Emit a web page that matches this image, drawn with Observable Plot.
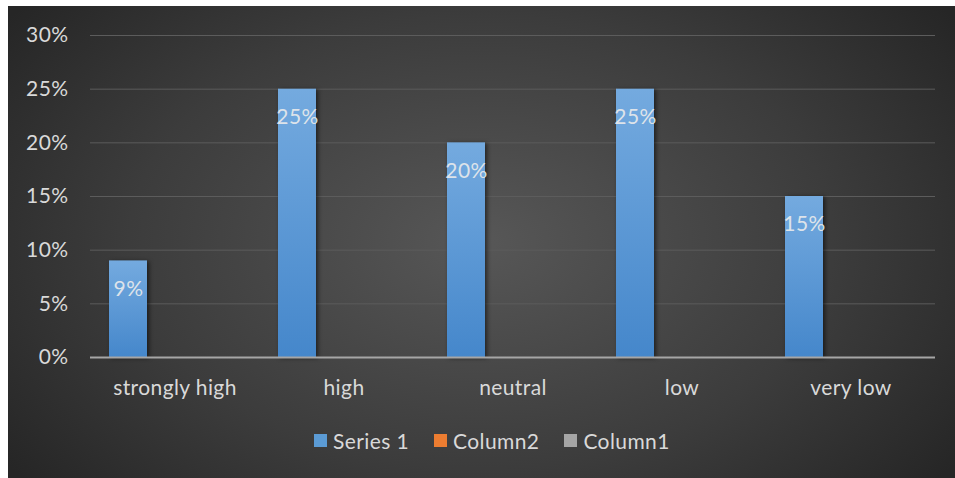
<!DOCTYPE html>
<html>
<head>
<meta charset="utf-8">
<script src="https://cdn.jsdelivr.net/npm/d3@7"></script>
<script src="https://cdn.jsdelivr.net/npm/@observablehq/plot@0.6"></script>
<style>
  html, body { margin: 0; padding: 0; background: #fff; }
  body { width: 955px; height: 478px; overflow: hidden; position: relative; font-family: Lato, "Open Sans", sans-serif; }
  #panel {
    position: absolute; left: 8px; top: 6px; width: 947px; height: 472px;
    background: radial-gradient(ellipse 62% 80% at 50% 50%, #575757 0%, #3c3c3c 60%, #262626 100%);
    overflow: hidden;
  }
  #chart svg { display: block; background: transparent; }
  #chart svg text { letter-spacing: 0.4px; }
  #chart g[aria-label="bar"] rect { filter: drop-shadow(2px 1px 2px rgba(0,0,0,0.55)); }
  #legend { position: absolute; left: 306px; top: 422px; display: flex; align-items: center;
    font-size: 21px; letter-spacing: 0.4px; color: #d9d9d9; white-space: nowrap; }
  #legend .item { display: flex; align-items: center; margin-right: 25px; }
  #legend .sw { width: 13px; height: 13px; margin-right: 6px; }
</style>
</head>
<body>
<div id="panel">
  <div id="chart"></div>
  <div id="legend"></div>
</div>
<script>
const categories = ["strongly high", "high", "neutral", "low", "very low"];
const series = ["Series 1", "Column2", "Column1"];
const series1 = [0.09, 0.25, 0.20, 0.25, 0.15];
const column2 = [0, 0, 0, 0, 0];
const column1 = [0, 0, 0, 0, 0];
const yTicks = [0, 0.05, 0.10, 0.15, 0.20, 0.25, 0.30];
const seriesColors = ["#5b9bd5", "#ed7d31", "#a5a5a5"];

const valuesBySeries = [series1, column2, column1];
const data = [];
categories.forEach((c, i) => {
  series.forEach((s, j) => data.push({category: c, series: s, value: valuesBySeries[j][i]}));
});

const pct = d => Math.round(d * 100) + "%";

const plot = Plot.plot({
  width: 947,
  height: 410,
  marginTop: 29,
  marginBottom: 59,
  marginLeft: 82,
  marginRight: 20,
  style: {background: "transparent", fontFamily: "Lato, 'Open Sans', sans-serif", fontSize: "21px", color: "#d9d9d9"},
  fx: {domain: categories, padding: 0, label: null, axis: "bottom", tickSize: 0, tickPadding: 23},
  x: {domain: series, axis: null, paddingInner: 0.17, paddingOuter: 0.383},
  y: {domain: [0, 0.3], ticks: yTicks, tickFormat: pct, tickSize: 0, tickPadding: 22, label: null},
  color: {domain: series, range: ["url(#g0)", "url(#g1)", "url(#g2)"]},
  marks: [
    Plot.ruleY(yTicks.filter(d => d > 0), {stroke: "#5c5c5c", strokeWidth: 1}),
    Plot.barY(data, {fx: "category", x: "series", y: "value", fill: "series"}),
    Plot.ruleY([0], {stroke: "#a6a6a6", strokeWidth: 2}),
    Plot.text(data.filter(d => d.value > 0), {fx: "category", x: "series", y: "value", text: d => pct(d.value),
      dy: 28, fill: "#dde3ea", fontSize: 21})
  ]
});

// gradients for bars
const defs = d3.select(plot).insert("defs", ":first-child");
const grads = [["#74aadf", "#4587cb"], ["#f59a5e", "#e06a1e"], ["#bdbdbd", "#939393"]];
grads.forEach((g, i) => {
  const lg = defs.append("linearGradient").attr("id", "g" + i).attr("x1", 0).attr("y1", 0).attr("x2", 0).attr("y2", 1);
  lg.append("stop").attr("offset", "0%").attr("stop-color", g[0]);
  lg.append("stop").attr("offset", "100%").attr("stop-color", g[1]);
});
document.getElementById("chart").appendChild(plot);

const legend = d3.select("#legend");
series.forEach((s, i) => {
  const it = legend.append("div").attr("class", "item");
  it.append("div").attr("class", "sw").style("background", seriesColors[i]);
  it.append("span").text(s);
});
</script>
</body>
</html>
